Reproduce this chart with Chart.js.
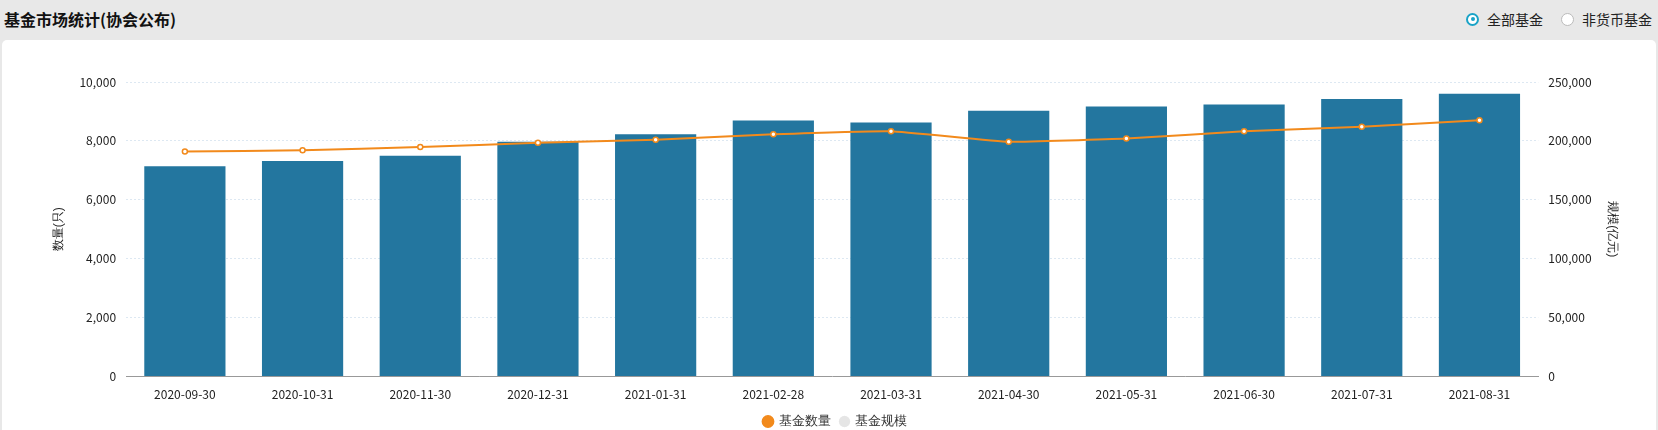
<!DOCTYPE html>
<html><head><meta charset="utf-8">
<script src="https://cdn.jsdelivr.net/npm/chart.js@4"></script>
<style>
body{margin:0;background:#e8e8e8;font-family:"Microsoft YaHei","Noto Sans CJK SC",sans-serif;width:1658px;height:430px;overflow:hidden}
.head{height:40px;position:relative}
.title{position:absolute;left:4px;top:7px;font-size:16px;font-weight:bold;color:#111}
.radios{position:absolute;right:6px;top:9px;font-size:14px;color:#222;display:flex;gap:18px}
.r{display:flex;align-items:center;gap:8px}
.dot{width:13px;height:13px;border-radius:50%;border:1px solid #bbb;background:#fff;box-sizing:border-box;position:relative}
.dot.on{border:2px solid #1aa3c7}
.dot.on::after{content:"";position:absolute;left:2.5px;top:2.5px;width:4px;height:4px;border-radius:50%;background:#1aa3c7}
.card{position:absolute;left:2px;right:2px;top:40px;height:400px;background:#fff;border-radius:5px}
</style></head><body>
<div class="head"><div class="title">基金市场统计(协会公布)</div>
<div class="radios"><div class="r"><span class="dot on"></span>全部基金</div><div class="r"><span class="dot"></span>非货币基金</div></div></div>
<div class="card"><canvas id="c" width="1654" height="398"></canvas></div>
<script>
const dates = ['2020-09-30','2020-10-31','2020-11-30','2020-12-31','2021-01-31','2021-02-28','2021-03-31','2021-04-30','2021-05-31','2021-06-30','2021-07-31','2021-08-31'];
const fundCount = [7645,7680,7790,7935,8040,8225,8330,7970,8080,8330,8480,8700];
const fundScale = [178400,183000,187500,199300,205600,217400,215600,225500,229200,231000,235500,240000];
const fmt = v => v.toLocaleString('en-US');
const tickFont = {size: 12, family: '"Microsoft YaHei","Noto Sans CJK SC",sans-serif'};
new Chart(document.getElementById('c'), {
  data: {
    labels: dates,
    datasets: [
      {type: 'line', label: '基金数量', data: fundCount, yAxisID: 'y', borderColor: '#f28a1c', backgroundColor: '#f28a1c',
       borderWidth: 2, pointRadius: 2.5, pointBackgroundColor: '#fff', pointBorderColor: '#f28a1c', pointBorderWidth: 1.5, tension: 0.1, order: 0},
      {type: 'bar', label: '基金规模', data: fundScale, yAxisID: 'y1', backgroundColor: '#23769f', categoryPercentage: 0.69, barPercentage: 1, order: 1}
    ]
  },
  options: {
    responsive: false, animation: false,
    layout: {padding: {top: 42, left: 45, right: 32, bottom: 0}},
    plugins: {
      legend: {position: 'bottom', labels: {usePointStyle: true, pointStyle: 'circle', boxWidth: 8, boxHeight: 8, color: '#333', font: {size: 13}, padding: 10,
        generateLabels: chart => Chart.defaults.plugins.legend.labels.generateLabels(chart).map(l => ({...l, fillStyle: l.strokeStyle}))}},
      tooltip: {enabled: false}
    },
    scales: {
      x: {grid: {display: false}, border: {color: '#999'}, ticks: {color: '#222', font: tickFont, maxRotation: 0}},
      y: {position: 'left', min: 0, max: 10000, ticks: {stepSize: 2000, color: '#222', font: tickFont, callback: fmt, padding: 10},
          grid: {color: '#dde8f2', drawTicks: false}, border: {display: false, dash: [2, 2]},
          title: {display: true, text: '数量(只)', color: '#222', font: {size: 12}}},
      y1: {position: 'right', min: 0, max: 250000, ticks: {stepSize: 50000, color: '#222', font: tickFont, callback: fmt, padding: 10},
          grid: {drawOnChartArea: false, drawTicks: false}, border: {display: false},
          title: {display: true, text: '规模(亿元)', color: '#222', font: {size: 12}}}
    }
  }
});
</script></body></html>
